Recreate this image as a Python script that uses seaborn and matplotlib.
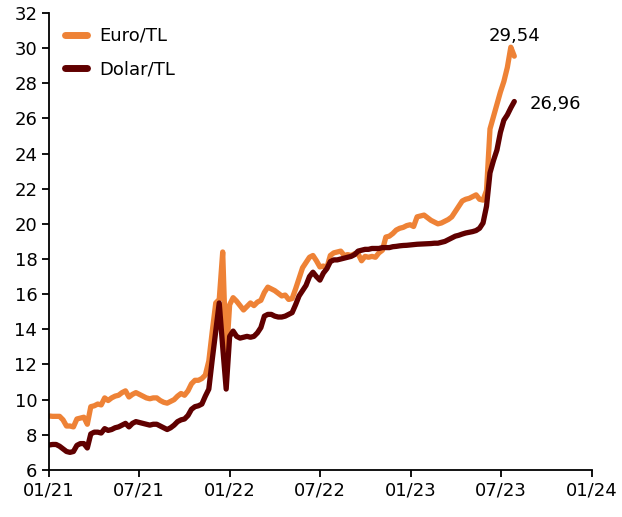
import matplotlib
matplotlib.use("Agg")
import matplotlib.pyplot as plt
import matplotlib.dates as mdates
import pandas as pd
import seaborn as sns

# haftalik kurlar, 01.01.2021'den itibaren
euro_tl = [
    9.07, 9.05, 9.05, 9.05, 8.85, 8.50, 8.50, 8.45, 8.90, 8.95,
    9.00, 8.60, 9.60, 9.65, 9.75, 9.70, 10.10, 9.95, 10.10, 10.20,
    10.25, 10.40, 10.50, 10.15, 10.30, 10.40, 10.30, 10.20, 10.10, 10.05,
    10.10, 10.10, 9.95, 9.85, 9.80, 9.90, 10.00, 10.20, 10.35, 10.25,
    10.50, 10.90, 11.10, 11.10, 11.20, 11.40, 12.20, 13.90, 15.50, 15.70,
    18.40, 12.30, 15.40, 15.80, 15.60, 15.35, 15.10, 15.30, 15.50, 15.35,
    15.55, 15.65, 16.10, 16.40, 16.30, 16.20, 16.05, 15.90, 15.95, 15.70,
    15.75, 16.30, 16.90, 17.50, 17.80, 18.10, 18.20, 17.90, 17.55, 17.60,
    17.50, 18.20, 18.35, 18.40, 18.45, 18.20, 18.25, 18.20, 18.30, 18.30,
    17.90, 18.15, 18.10, 18.15, 18.10, 18.35, 18.50, 19.25, 19.30, 19.45,
    19.65, 19.75, 19.80, 19.90, 19.95, 19.85, 20.40, 20.45, 20.50, 20.35,
    20.20, 20.10, 20.00, 20.05, 20.15, 20.25, 20.40, 20.70, 21.00, 21.30,
    21.40, 21.45, 21.55, 21.65, 21.40, 21.35, 21.90, 25.40, 26.10, 26.80,
    27.50, 28.10, 28.90, 30.05, 29.54,
]
dolar_tl = [
    7.42, 7.45, 7.45, 7.35, 7.20, 7.05, 7.00, 7.05, 7.40, 7.50,
    7.50, 7.25, 8.05, 8.15, 8.15, 8.10, 8.35, 8.25, 8.30, 8.40,
    8.45, 8.55, 8.65, 8.45, 8.65, 8.75, 8.70, 8.65, 8.60, 8.55,
    8.60, 8.60, 8.50, 8.40, 8.30, 8.40, 8.55, 8.75, 8.85, 8.90,
    9.10, 9.45, 9.60, 9.65, 9.75, 10.20, 10.60, 12.30, 13.90, 15.50,
    13.00, 10.60, 13.60, 13.90, 13.60, 13.50, 13.55, 13.60, 13.55, 13.60,
    13.80, 14.10, 14.75, 14.85, 14.85, 14.75, 14.70, 14.70, 14.75, 14.85,
    14.95, 15.40, 15.90, 16.20, 16.50, 17.00, 17.25, 17.00, 16.80, 17.20,
    17.45, 17.85, 17.95, 17.95, 18.00, 18.05, 18.10, 18.15, 18.25, 18.45,
    18.50, 18.55, 18.55, 18.60, 18.60, 18.60, 18.65, 18.65, 18.65, 18.70,
    18.72, 18.75, 18.77, 18.78, 18.80, 18.82, 18.84, 18.85, 18.86, 18.87,
    18.88, 18.90, 18.90, 18.95, 19.00, 19.10, 19.20, 19.30, 19.35, 19.42,
    19.48, 19.52, 19.56, 19.62, 19.75, 20.05, 21.00, 22.90, 23.60, 24.20,
    25.20, 25.90, 26.20, 26.60, 26.96,
]
tarihler = pd.date_range("2021-01-01", periods=len(euro_tl), freq="7D")
seri_adlari = ["Euro/TL", "Dolar/TL"]
renkler = {"Euro/TL": "#EE8236", "Dolar/TL": "#600000"}
son_etiketler = ["29,54", "26,96"]

df = pd.concat([
    pd.DataFrame({"Tarih": tarihler, "Kur": euro_tl, "Seri": "Euro/TL"}),
    pd.DataFrame({"Tarih": tarihler, "Kur": dolar_tl, "Seri": "Dolar/TL"}),
])

sns.set_style("ticks")
plt.rcParams["font.family"] = ["DejaVu Sans"]
plt.rcParams["text.color"] = "black"

fig = plt.figure(figsize=(6.22, 5.17), dpi=100)
ax = fig.add_axes([0.079, 0.091, 0.873, 0.884])
sns.lineplot(data=df, x="Tarih", y="Kur", hue="Seri", hue_order=seri_adlari,
             palette=renkler, linewidth=3.8, ax=ax)

ax.set_xlim(pd.Timestamp("2021-01-01"), pd.Timestamp("2024-01-01"))
ax.set_ylim(6, 32)
ax.set_yticks(range(6, 33, 2))
ax.xaxis.set_major_locator(mdates.MonthLocator(bymonth=[1, 7]))
ax.xaxis.set_major_formatter(mdates.DateFormatter("%m/%y"))
ax.set_xlabel("")
ax.set_ylabel("")
ax.tick_params(labelsize=13, length=5, width=1.3, colors="black")
for s in ["left", "bottom"]:
    ax.spines[s].set_linewidth(1.3)
    ax.spines[s].set_color("black")
sns.despine(ax=ax)
ax.margins(x=0)

# son degerler
ax.annotate(son_etiketler[0], (tarihler[-1], euro_tl[-1]), xytext=(0, 8),
            textcoords="offset points", ha="center", va="bottom", fontsize=13,
            color="black")
ax.annotate(son_etiketler[1], (tarihler[-1], dolar_tl[-1]), xytext=(11, -1.5),
            textcoords="offset points", ha="left", va="center", fontsize=13,
            color="black")

leg = ax.legend(loc="upper left", bbox_to_anchor=(0.0, 1.005), frameon=False,
                fontsize=13, handlelength=1.2, handletextpad=0.7, labelspacing=0.85,
                labelcolor="black")
for h in leg.get_lines():
    h.set_linewidth(5)
    h.set_solid_capstyle("round")

fig.savefig("out.png", dpi=100)
